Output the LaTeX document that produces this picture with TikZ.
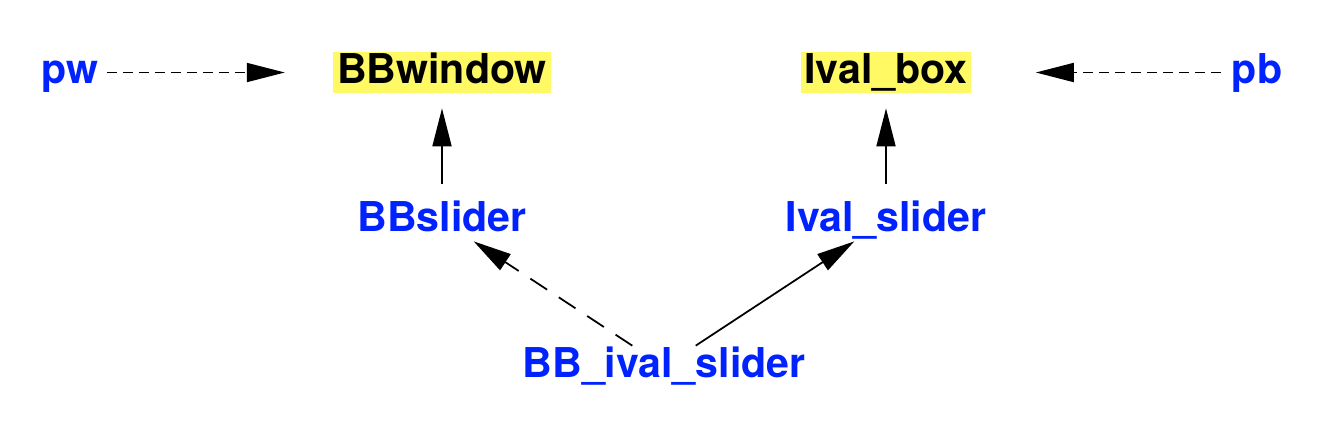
\documentclass[tikz,border=0pt]{standalone}
\usepackage{fontspec}
\setmainfont{TeX Gyre Heros}
\usepackage{xcolor}
\usetikzlibrary{arrows.meta}

\definecolor{clsblue}{RGB}{0,34,255}
\definecolor{marker}{RGB}{255,250,100}

\begin{document}
\begin{tikzpicture}[x=0.02cm, y=-0.02cm,
    cls/.style={text=clsblue, font=\fontsize{23.4}{28}\selectfont\bfseries, anchor=base,
        text height=0.6cm, text depth=0.18cm, inner xsep=0.08cm, inner ysep=0.02cm},
    win/.style={cls, text=black, fill=marker},
    uses/.style={-{Triangle[length=0.76cm, width=0.38cm]}, line width=1pt},
    weak/.style={uses, dash pattern=on 0.2cm off 0.12cm}]
                \useasboundingbox (0, 0) rectangle (1324, 440);
                % Nodes
                \node[cls] (pw) at (70, 83) {pw};               % pointer
                \node[win] (bbwindow) at (442, 83) {BBwindow};  % highlighted
                \node[win] (ivalbox) at (886, 83) {Ival\_box};  % highlighted
                \node[cls] (pb) at (1257, 83) {pb};             % pointer
                \node[cls] (bbslider) at (442, 231) {BBslider};
                \node[cls] (ivalslider) at (886, 231) {Ival\_slider};
                \node[cls] (bbival) at (664, 377) {BB\_ival\_slider};
                % Edges
                \draw[weak, shorten <=0.08cm, shorten >=0.96cm] (pw) -- (bbwindow);
                \draw[weak, shorten <=0.14cm, shorten >=1.28cm] (pb) -- (ivalbox);
                \draw[uses, shorten <=0.32cm, shorten >=0.3cm] (bbslider) -- (bbwindow);
                \draw[uses, shorten <=0.32cm, shorten >=0.3cm] (ivalslider) -- (ivalbox);
                \draw[uses, dash pattern=on 0.4cm off 0.28cm] (bbival) -- (bbslider);
                \draw[uses] (bbival) -- (ivalslider);
            \end{tikzpicture}
\end{document}
